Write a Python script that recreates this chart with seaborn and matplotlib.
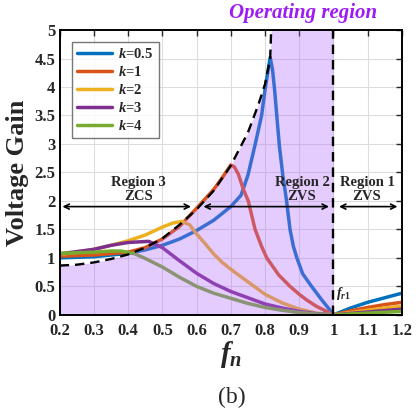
import numpy as np
import pandas as pd
import matplotlib
matplotlib.use("Agg")
import matplotlib.pyplot as plt
from matplotlib.ticker import FuncFormatter
import seaborn as sns

# curve data (fn, gain)
fn_k05 = [0.2, 0.3, 0.4, 0.45, 0.5, 0.55, 0.6, 0.65, 0.7, 0.73, 0.75, 0.77, 0.79, 0.80, 0.815,
          0.822, 0.828, 0.835, 0.842, 0.852, 0.863, 0.873, 0.883, 0.893, 0.91, 0.936, 0.966,
          0.985, 1.0, 1.05, 1.1, 1.15, 1.2]
g_k05 = [1.00, 1.02, 1.08, 1.14, 1.22, 1.33, 1.48, 1.66, 1.9, 2.1, 2.45, 2.96, 3.5, 3.95, 4.52,
         4.3, 3.95, 3.45, 2.96, 2.45, 2.0, 1.5, 1.2, 1.0, 0.72, 0.5, 0.26,
         0.12, 0.0, 0.12, 0.22, 0.3, 0.38]

fn_k1 = [0.2, 0.3, 0.4, 0.45, 0.5, 0.55, 0.6, 0.65, 0.68, 0.7, 0.71, 0.722, 0.737, 0.751, 0.771,
         0.79, 0.805, 0.84, 0.873, 0.9, 0.922, 0.95, 0.97, 1.0, 1.05, 1.1, 1.15, 1.2]
g_k1 = [1.03, 1.05, 1.1, 1.18, 1.33, 1.55, 1.87, 2.2, 2.45, 2.63, 2.6, 2.47, 2.2, 2.0, 1.5,
        1.2, 1.0, 0.7, 0.5, 0.36, 0.26, 0.15, 0.09, 0.0, 0.07, 0.13, 0.18, 0.22]

fn_k2 = [0.2, 0.25, 0.3, 0.35, 0.4, 0.45, 0.5, 0.53, 0.557, 0.58, 0.6, 0.625, 0.65, 0.675, 0.7,
         0.727, 0.75, 0.8, 0.85, 0.9, 0.95, 1.0, 1.05, 1.1, 1.15, 1.2]
g_k2 = [1.06, 1.1, 1.15, 1.22, 1.3, 1.4, 1.54, 1.61, 1.64, 1.58, 1.42, 1.25, 1.07, 0.92, 0.8,
        0.68, 0.58, 0.36, 0.21, 0.1, 0.03, 0.0, 0.04, 0.08, 0.12, 0.15]

fn_k3 = [0.2, 0.25, 0.3, 0.35, 0.4, 0.46, 0.5, 0.55, 0.6, 0.65, 0.7, 0.75, 0.8, 0.85, 0.9,
         0.95, 1.0, 1.1, 1.2]
g_k3 = [1.07, 1.11, 1.15, 1.22, 1.27, 1.29, 1.18, 0.95, 0.73, 0.55, 0.41, 0.3, 0.19, 0.12, 0.06,
        0.02, 0.0, 0.05, 0.1]

fn_k4 = [0.2, 0.25, 0.3, 0.35, 0.38, 0.42, 0.45, 0.5, 0.55, 0.6, 0.65, 0.7, 0.75, 0.8, 0.85,
         0.9, 0.95, 1.0, 1.1, 1.2]
g_k4 = [1.08, 1.09, 1.1, 1.12, 1.12, 1.07, 0.99, 0.84, 0.66, 0.5, 0.38, 0.29, 0.2, 0.13, 0.08,
        0.04, 0.015, 0.0, 0.03, 0.06]

# peak locus (dashed boundary of the operating region)
fn_peak = [0.2, 0.25, 0.3, 0.35, 0.4, 0.45, 0.5, 0.55, 0.6, 0.65, 0.7, 0.75, 0.78, 0.8, 0.815, 0.818]
g_peak = [0.865, 0.88, 0.92, 0.98, 1.06, 1.18, 1.34, 1.58, 1.85, 2.18, 2.62, 3.2, 3.68, 4.05, 4.5, 5.0]

k_labels = ["0.5", "1", "2", "3", "4"]
colors = ["#0072BD", "#D95319", "#EDB120", "#7E2F8E", "#77AC30"]


def main():
    sns.set_style("white")
    plt.rcParams["font.family"] = ["Liberation Serif", "DejaVu Serif"]
    plt.rcParams["font.weight"] = "bold"
    plt.rcParams["mathtext.fontset"] = "custom"
    plt.rcParams["mathtext.it"] = "Liberation Serif:italic:bold"
    plt.rcParams["mathtext.rm"] = "Liberation Serif:bold"

    frames = []
    for lab, xs, ys in zip(k_labels, [fn_k05, fn_k1, fn_k2, fn_k3, fn_k4],
                           [g_k05, g_k1, g_k2, g_k3, g_k4]):
        frames.append(pd.DataFrame({"fn": xs, "gain": ys, "k": "$k$=" + lab}))
    df = pd.concat(frames, ignore_index=True)

    fig = plt.figure(figsize=(4.2, 4.17), dpi=100)
    ax = fig.add_axes([0.142, 0.245, 0.815, 0.683])

    sns.lineplot(data=df, x="fn", y="gain", hue="k", palette=colors, estimator=None,
                 sort=False, linewidth=2.5, ax=ax, zorder=2)

    # operating region shading (on top of curves, semi-transparent)
    fill_x = fn_peak + [1.0]
    fill_y = g_peak + [5.0]
    ax.fill_between(fill_x, 0, fill_y, color="#b266ff", alpha=0.33, linewidth=0, zorder=3)

    ax.plot(fn_peak, g_peak, color="black", ls=(0, (4, 2.5)), lw=1.7, zorder=4)
    ax.plot([1.0, 1.0], [0, 5], color="black", ls=(0, (4, 2.5)), lw=1.7, zorder=4)

    # region arrows and labels
    arrow = dict(arrowstyle="<->", color="black", lw=1.2, mutation_scale=9)
    ax.annotate("", xy=(0.2, 1.9), xytext=(0.592, 1.9), arrowprops=arrow, zorder=5)
    ax.annotate("", xy=(0.612, 1.9), xytext=(0.995, 1.9), arrowprops=arrow, zorder=5)
    ax.annotate("", xy=(1.008, 1.9), xytext=(1.195, 1.9), arrowprops=arrow, zorder=5)
    for xc, txt in [(0.43, "Region 3\nZCS"), (0.908, "Region 2\nZVS"), (1.098, "Region 1\nZVS")]:
        ax.text(xc, 2.2, txt, ha="center", va="center", fontsize=10.5,
                fontweight="bold", linespacing=1.15, zorder=5)
    ax.text(1.008, 0.38, "$f_{r1}$", fontsize=10, ha="left", va="center", zorder=5)

    ax.set_xlim(0.2, 1.2)
    ax.set_ylim(0, 5)
    ax.set_xticks(np.arange(0.2, 1.21, 0.1))
    ax.set_yticks(np.arange(0, 5.01, 0.5))
    ax.xaxis.set_major_formatter(FuncFormatter(lambda v, p: "%g" % round(v, 2)))
    ax.yaxis.set_major_formatter(FuncFormatter(lambda v, p: "%g" % round(v, 2)))
    ax.grid(True, color="#dddddd", lw=0.8, zorder=0)
    ax.set_axisbelow(True)
    ax.tick_params(direction="in", top=True, right=True, length=4, width=1, labelsize=12)
    ax.tick_params(axis="x", pad=6)
    ax.tick_params(axis="y", pad=3)
    for lbl in ax.get_xticklabels() + ax.get_yticklabels():
        lbl.set_fontweight("bold")
    for sp in ax.spines.values():
        sp.set_color("black")
        sp.set_linewidth(1.4)
        sp.set_zorder(6)

    ax.set_xlabel("$f_n$", fontsize=21, labelpad=0)
    ax.set_ylabel("Voltage Gain", fontsize=19, fontweight="bold", labelpad=4)

    leg = ax.legend(loc="upper left", bbox_to_anchor=(0.015, 0.985), fontsize=10.5,
                    handlelength=2.4, labelspacing=0.28, borderpad=0.35,
                    handletextpad=0.4, frameon=True, fancybox=False)
    leg.get_frame().set_edgecolor("#555555")
    leg.get_frame().set_linewidth(1.0)
    leg.set_zorder(7)

    fig.text(0.722, 0.969, "Operating region", color="#9d1cf5", fontsize=15,
             fontweight="bold", style="italic", ha="center", va="center")
    fig.text(0.552, 0.048, "(b)", fontsize=17, fontweight="normal",
             ha="center", va="center")

    fig.savefig("out.png", dpi=100)


if __name__ == "__main__":
    main()
